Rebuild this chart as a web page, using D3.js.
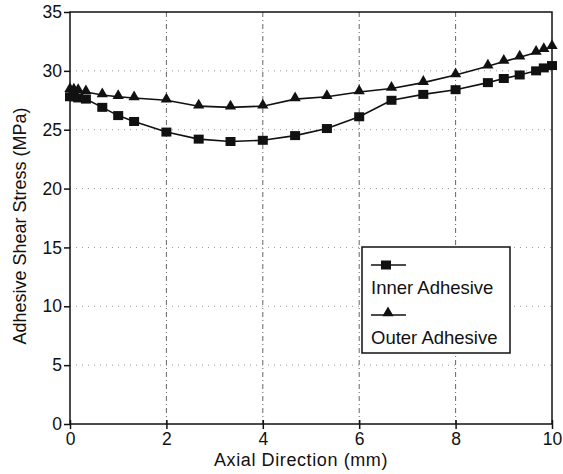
<!DOCTYPE html>
<html>
<head>
<meta charset="utf-8">
<script src="https://cdn.jsdelivr.net/npm/d3@7"></script>
<style>
  body { margin: 0; background: #fff; }
  text { font-family: "Liberation Sans", Arial, sans-serif; fill: #111; }
</style>
</head>
<body>
<div id="chart"></div>
<script>
// Data
const axialPos = [0, 0.08, 0.17, 0.33, 0.67, 1, 1.33, 2, 2.67, 3.33, 4, 4.67, 5.33, 6, 6.67, 7.33, 8, 8.67, 9, 9.33, 9.67, 9.83, 10];
const innerStress = [27.8, 27.8, 27.7, 27.6, 26.9, 26.2, 25.7, 24.8, 24.2, 24.0, 24.1, 24.5, 25.1, 26.1, 27.5, 28.0, 28.4, 29.0, 29.35, 29.65, 30.0, 30.25, 30.45];
const outerStress = [28.4, 28.35, 28.3, 28.2, 27.95, 27.8, 27.7, 27.5, 27.0, 26.9, 27.0, 27.6, 27.8, 28.2, 28.5, 29.0, 29.65, 30.4, 30.8, 31.15, 31.55, 31.8, 32.05];
const xTicks = [0, 2, 4, 6, 8, 10];
const yTicks = [0, 5, 10, 15, 20, 25, 30, 35];
const seriesNames = ["Inner Adhesive", "Outer Adhesive"];

const svgWidth = 563;
const svgHeight = 474;
const margin = { top: 12, right: 11, bottom: 50, left: 70 };
const width = svgWidth - margin.left - margin.right;
const height = svgHeight - margin.top - margin.bottom;

const svg = d3
  .select("#chart")
  .append("svg")
  .attr("width", svgWidth)
  .attr("height", svgHeight);

const chart = svg
  .append("g")
  .attr("transform", `translate(${margin.left},${margin.top})`);

// Scales
const x = d3.scaleLinear().domain([0, 10]).range([0, width]);
const y = d3.scaleLinear().domain([0, 35]).range([height, 0]);

// Grid lines
chart
  .selectAll(".hgrid")
  .data(yTicks.filter((d) => d > 0 && d < 35))
  .enter()
  .append("line")
  .attr("x1", 0)
  .attr("x2", width)
  .attr("y1", (d) => y(d))
  .attr("y2", (d) => y(d))
  .attr("stroke", "#999")
  .attr("stroke-width", 1)
  .attr("stroke-dasharray", "1,5");

chart
  .selectAll(".vgrid")
  .data(xTicks.filter((d) => d > 0 && d < 10))
  .enter()
  .append("line")
  .attr("x1", (d) => x(d))
  .attr("x2", (d) => x(d))
  .attr("y1", 0)
  .attr("y2", height)
  .attr("stroke", "#666")
  .attr("stroke-width", 1)
  .attr("stroke-dasharray", "5,3,1,3");

// Frame
chart
  .append("rect")
  .attr("width", width)
  .attr("height", height)
  .attr("fill", "none")
  .attr("stroke", "#111")
  .attr("stroke-width", 1.5);

// Axes
const yAxis = chart
  .append("g")
  .call(d3.axisLeft(y).tickValues(yTicks).tickSize(6).tickPadding(2));
const xAxis = chart
  .append("g")
  .attr("transform", `translate(0, ${height})`)
  .call(d3.axisBottom(x).tickValues(xTicks).tickSize(5).tickPadding(4));

[xAxis, yAxis].forEach((g) => {
  g.select(".domain").remove();
  g.selectAll("line").attr("stroke", "#111").attr("stroke-width", 1.5);
  g.selectAll("text")
    .style("font-size", "17.5px")
    .style("font-family", "Liberation Sans, Arial, sans-serif")
    .attr("fill", "#111");
});
// bottom ticks cross the axis
xAxis.selectAll(".tick line").attr("y1", -4);

// Axis titles
svg
  .append("text")
  .attr("x", margin.left + width / 2 - 10)
  .attr("y", 466)
  .attr("text-anchor", "middle")
  .style("font-size", "18px")
  .style("letter-spacing", "0.6px")
  .text("Axial Direction (mm)");

svg
  .append("text")
  .attr("transform", `translate(26, 226) rotate(-90)`)
  .attr("text-anchor", "middle")
  .style("font-size", "18px")
  .text("Adhesive Shear Stress (MPa)");

// Lines
const innerData = axialPos.map((d, i) => ({ x: d, y: innerStress[i] }));
const outerData = axialPos.map((d, i) => ({ x: d, y: outerStress[i] }));

const line = d3
  .line()
  .x((d) => x(d.x))
  .y((d) => y(d.y));

chart
  .append("path")
  .datum(innerData)
  .attr("fill", "none")
  .attr("stroke", "#111")
  .attr("stroke-width", 1.6)
  .attr("d", line);

chart
  .append("path")
  .datum(outerData)
  .attr("fill", "none")
  .attr("stroke", "#111")
  .attr("stroke-width", 1.6)
  .attr("d", line);

// Markers
const tri = d3.symbol().type(d3.symbolTriangle).size(55);

chart
  .selectAll(".sq")
  .data(innerData)
  .enter()
  .append("rect")
  .attr("x", (d) => x(d.x) - 5)
  .attr("y", (d) => y(d.y) - 4.5)
  .attr("width", 10)
  .attr("height", 9)
  .attr("fill", "#111");

chart
  .selectAll(".tri")
  .data(outerData)
  .enter()
  .append("path")
  .attr("transform", (d) => `translate(${x(d.x)},${y(d.y) - 1})`)
  .attr("d", tri)
  .attr("fill", "#111");

// Legend
const legend = svg.append("g").attr("transform", "translate(362, 247)");
legend
  .append("rect")
  .attr("width", 148)
  .attr("height", 106)
  .attr("fill", "#fff")
  .attr("stroke", "#111")
  .attr("stroke-width", 1.5);

seriesNames.forEach((name, i) => {
  const g = legend.append("g").attr("transform", `translate(0, ${i * 50})`);
  g.append("line")
    .attr("x1", 9)
    .attr("x2", 44)
    .attr("y1", 18)
    .attr("y2", 18)
    .attr("stroke", "#111")
    .attr("stroke-width", 1.6);
  if (i === 0) {
    g.append("rect")
      .attr("x", 19)
      .attr("y", 13.5)
      .attr("width", 10)
      .attr("height", 9)
      .attr("fill", "#111");
  } else {
    g.append("path")
      .attr("transform", "translate(26, 16)")
      .attr("d", tri)
      .attr("fill", "#111");
  }
  g.append("text")
    .attr("x", 9)
    .attr("y", 47)
    .style("font-size", "18.5px")
    .text(name);
});
</script>
</body>
</html>
